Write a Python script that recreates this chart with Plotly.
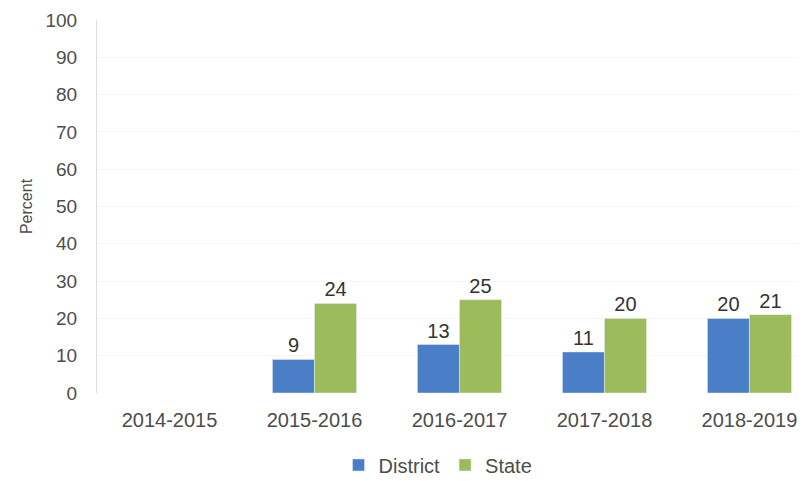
import plotly.graph_objects as go

years = ["2014-2015", "2015-2016", "2016-2017", "2017-2018", "2018-2019"]
district = [None, 9, 13, 11, 20]
state = [None, 24, 25, 20, 21]
y_ticks = list(range(0, 101, 10))

_BLUE = "#4a7ec6"
_GREEN = "#9cbb5a"
_TEXT = "#4d4d4d"
_FONT = dict(family="Liberation Sans, Arial, sans-serif", color=_TEXT, size=19)


def _labels(vals):
    return ["" if v is None else str(v) for v in vals]


fig = go.Figure()
fig.add_trace(go.Bar(
    name="District", x=years, y=district,
    marker_color=_BLUE,
    text=_labels(district), textposition="outside",
    textfont=dict(size=20, color="#333333"),
    cliponaxis=False,
))
fig.add_trace(go.Bar(
    name="State", x=years, y=state,
    marker_color=_GREEN,
    text=_labels(state), textposition="outside",
    textfont=dict(size=20, color="#333333"),
    cliponaxis=False,
))

# the page body keeps its default 8px margin, so the figure is a bit smaller
fig.update_layout(
    width=798, height=473,
    paper_bgcolor="#ffffff", plot_bgcolor="#ffffff",
    font=_FONT,
    barmode="group", bargap=0.42, bargroupgap=0,
    margin=dict(l=89, r=0, t=12, b=88),
    xaxis=dict(
        range=[-0.5, 4.39], automargin=False,
        showgrid=False, showline=False, zeroline=False,
        ticks="outside", ticklen=9, tickcolor="rgba(0,0,0,0)",
        tickfont=dict(size=20, color=_TEXT),
    ),
    yaxis=dict(
        range=[0, 100], tickvals=y_ticks, automargin=False,
        ticklabeloverflow="allow",
        showgrid=True, gridcolor="#f6f6f6",
        showline=True, linecolor="#dedede", linewidth=1,
        zeroline=False,
        ticks="outside", ticklen=15, tickcolor="rgba(0,0,0,0)",
        tickfont=dict(size=19, color=_TEXT),
        title=dict(text="Percent", font=dict(size=16, color=_TEXT), standoff=8),
    ),
    legend=dict(
        orientation="h", x=0.481, xanchor="center",
        yref="container", y=0.034, yanchor="middle",
        font=dict(size=20, color=_TEXT), itemwidth=30,
        traceorder="normal",
    ),
)

fig.write_html("out.html")
